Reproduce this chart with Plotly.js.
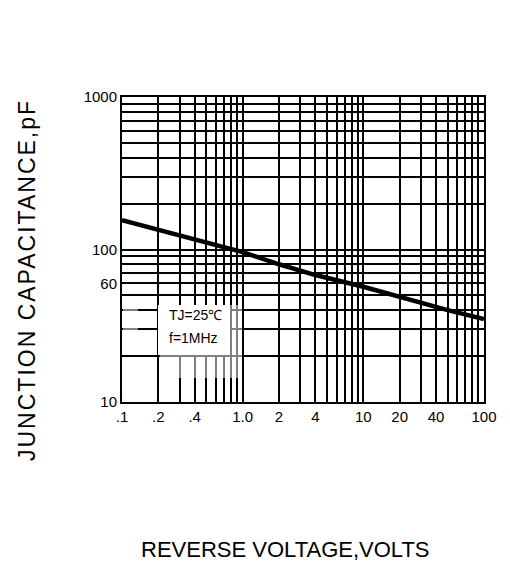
<!DOCTYPE html>
<html><head><meta charset="utf-8">
<script src="https://cdn.plot.ly/plotly-3.0.1.min.js"></script>
<style>body{margin:0;background:#fff}</style>
</head><body><div id="chart" style="width:510px;height:563px"></div>
<script>
const voltage = [0.1, 0.2, 0.5, 1, 2, 4, 10, 20, 50, 100];
const capacitance = [156, 135, 112, 96, 80, 68, 57, 49, 40, 35];
const xTickVals = [0.1, 0.2, 0.4, 1, 2, 4, 10, 20, 40, 100];
const xTickText = ['.1', '.2', '.4', '1.0', '2', '4', '10', '20', '40', '100'];
const yTickVals = [10, 60, 100, 1000];
const yTickText = ['10', '60', '100', '1000'];
const noteLines = ['TJ=25℃', 'f=1MHz'];
const xTitle = 'REVERSE VOLTAGE,VOLTS';
const yTitle = 'JUNCTION CAPACITANCE,pF';

function logGrid(lo, hi) {
  const out = [];
  for (let d = lo; d < hi * 0.99; d = +(d * 10).toPrecision(3)) {
    for (let k = 1; k <= 9; k++) out.push(+(k * d).toPrecision(3));
  }
  out.push(hi);
  return out;
}
function labelsFor(grid, vals, texts) {
  return grid.map(g => {
    const i = vals.findIndex(v => Math.abs(v - g) / v < 1e-6);
    return i >= 0 ? texts[i] : '';
  });
}
const xGrid = logGrid(0.1, 100);
const yGrid = logGrid(10, 1000);

const FONT = 'Arial, "Liberation Sans", sans-serif';
const X0 = 122, X1 = 484, Y0 = 97, Y1 = 402;
const px = x => (x - X0) / (X1 - X0);
const py = y => (Y1 - y) / (Y1 - Y0);

const axisCommon = {
  type: 'log', tickmode: 'array', showgrid: true, gridcolor: '#000', gridwidth: 2,
  showline: true, mirror: true, linecolor: '#000', linewidth: 2, ticks: '',
  zeroline: false, tickfont: {family: FONT, size: 15, color: '#000'}, fixedrange: true
};

const annotations = noteLines.map((t, i) => ({
  text: t, xref: 'paper', yref: 'paper', x: px(167), y: py(315 + 23 * i),
  xanchor: 'left', yanchor: 'middle', showarrow: false,
  font: {family: FONT, size: 14, color: '#000'}
}));
annotations.push({
  text: xTitle, xref: 'paper', yref: 'paper', x: px(285), y: py(549),
  xanchor: 'center', yanchor: 'middle', showarrow: false,
  font: {family: FONT, size: 22, color: '#000'}
});
annotations.push({
  text: yTitle, xref: 'paper', yref: 'paper', x: px(27), y: py(280), textangle: -90,
  xanchor: 'center', yanchor: 'middle', showarrow: false,
  font: {family: FONT, size: 23, color: '#000'}
});

const layout = {
  width: 510, height: 563,
  margin: {l: X0, r: 510 - X1, t: Y0, b: 563 - Y1},
  paper_bgcolor: '#fff', plot_bgcolor: '#fff', showlegend: false,
  font: {family: FONT, color: '#000'},
  xaxis: Object.assign({}, axisCommon, {
    range: [-1, 2], tickvals: xGrid, ticktext: labelsFor(xGrid, xTickVals, xTickText)
  }),
  yaxis: Object.assign({}, axisCommon, {
    range: [1, 3], tickvals: yGrid, ticktext: labelsFor(yGrid, yTickVals, yTickText)
  }),
  shapes: [
    {type: 'rect', xref: 'paper', yref: 'paper', x0: px(158), x1: px(230), y0: py(355), y1: py(305),
     fillcolor: '#fff', line: {width: 0}, layer: 'above'},
    {type: 'rect', xref: 'paper', yref: 'paper', x0: px(160), x1: px(242), y0: py(378), y1: py(355),
     fillcolor: 'rgba(255,255,255,0.5)', line: {width: 0}, layer: 'above'},
    {type: 'rect', xref: 'paper', yref: 'paper', x0: px(230), x1: px(242), y0: py(355), y1: py(305),
     fillcolor: 'rgba(255,255,255,0.5)', line: {width: 0}, layer: 'above'},
    {type: 'rect', xref: 'paper', yref: 'paper', x0: px(123), x1: px(138), y0: py(335), y1: py(305),
     fillcolor: 'rgba(255,255,255,0.5)', line: {width: 0}, layer: 'above'}
  ],
  annotations: annotations
};

const trace = {
  x: voltage, y: capacitance, type: 'scatter', mode: 'lines',
  line: {color: '#000', width: 4.5}, hoverinfo: 'skip'
};

Plotly.newPlot('chart', [trace], layout, {staticPlot: true}).then(gd => {
  document.querySelectorAll('#chart .annotation-text').forEach(el => {
    if (el.textContent === yTitle) el.style.letterSpacing = '2px';
  });
});
</script></body></html>
